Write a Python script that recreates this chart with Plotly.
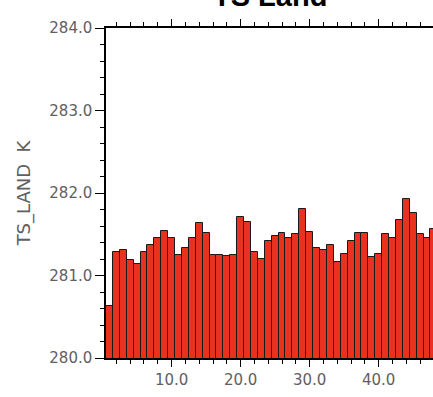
import plotly.graph_objects as go

years = list(range(1, 49))
ts_land = [280.63, 281.29, 281.31, 281.19, 281.14, 281.29, 281.37, 281.45, 281.54, 281.46,
           281.25, 281.33, 281.46, 281.64, 281.52, 281.25, 281.25, 281.24, 281.25, 281.71,
           281.65, 281.28, 281.20, 281.42, 281.48, 281.52, 281.46, 281.50, 281.81, 281.53,
           281.33, 281.31, 281.37, 281.16, 281.26, 281.42, 281.52, 281.52, 281.22, 281.26,
           281.50, 281.46, 281.67, 281.93, 281.76, 281.50, 281.46, 281.56]
x_ticks = [10, 20, 30, 40]
y_ticks = [280, 281, 282, 283, 284]

FONT = "DejaVu Sans"
GRAY = "#606060"

fig = go.Figure(go.Bar(
    x=years, y=ts_land, base=0, width=1.0,
    marker=dict(color="#E8321F", line=dict(color="#1a1a1a", width=1)),
))

fig.update_layout(
    width=433, height=397,
    margin=dict(l=106, r=0, t=28, b=39),
    paper_bgcolor="white", plot_bgcolor="white",
    showlegend=False, bargap=0,
    font=dict(family=FONT, color=GRAY, size=15),
)
fig.update_xaxes(
    automargin=False,
    range=[0.5, 47.87], tickvals=x_ticks, tickformat=".1f",
    ticks="outside", ticklen=7, tickwidth=1.2, tickcolor="black",
    showline=True, linecolor="black", linewidth=1.5, mirror="ticks",
    showgrid=False, zeroline=False,
    minor=dict(dtick=2, tick0=0, ticks="outside", ticklen=4, tickcolor="black", tickwidth=1),
    tickfont=dict(family=FONT, size=15, color=GRAY),
)
fig.update_yaxes(
    automargin=False,
    range=[280, 284], tickvals=y_ticks, tickformat=".1f",
    ticks="outside", ticklen=9, tickwidth=1.2, tickcolor="black",
    showline=True, linecolor="black", linewidth=1.5, mirror="ticks",
    showgrid=False, zeroline=False,
    minor=dict(dtick=0.2, tick0=280, ticks="outside", ticklen=4, tickcolor="black", tickwidth=1),
    tickfont=dict(family=FONT, size=15, color=GRAY),
    title=dict(text="TS_LAND  K", font=dict(family=FONT, size=18, color=GRAY), standoff=14),
)
fig.add_annotation(
    text="<b>TS Land</b>", xref="paper", yref="paper", x=0.5, y=1,
    xanchor="center", yanchor="bottom", yshift=14, showarrow=False,
    font=dict(family="Liberation Sans", size=29, color="black"),
)
fig.write_html("out.html")
